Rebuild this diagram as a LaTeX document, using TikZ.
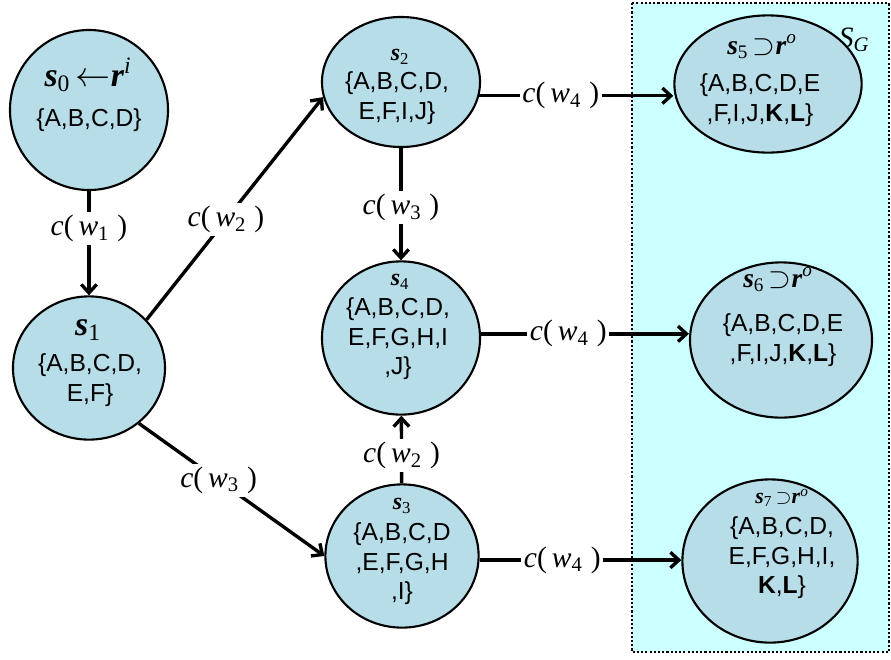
\documentclass[tikz,border=0pt]{standalone}
\usepackage{fontspec}
\setmainfont{Liberation Serif}
\setsansfont{Liberation Sans}
\usepackage{xcolor}
\usetikzlibrary{shapes.geometric,arrows.meta}
\definecolor{statefill}{HTML}{B7DDE8}
\definecolor{goalfill}{HTML}{CCFFFF}
\newcommand{\cw}[1]{\textit{c}(\,\textit{w}\textsubscript{#1}\;)}
\newcommand{\sname}[1]{\textbf{\textit{s}}\textsubscript{#1}}
\newcommand{\rsup}[1]{\textbf{\textit{r}}\textsuperscript{\textit{#1}}}
\tikzset{
  state/.style={ellipse, draw, line width=1.5pt, fill=statefill, inner sep=0pt},
  setlist/.style={font=\sffamily\fontsize{17.5}{21}\selectfont, align=center, inner sep=0pt},
  edge/.style={line width=2.4pt, -{Straight Barb[length=6pt, width=11pt]}},
  wlabel/.style={fill=white, inner sep=2pt, font=\fontsize{21}{24}\selectfont},
}

\begin{document}
\begin{tikzpicture}[x=0.025cm, y=-0.025cm]
  \useasboundingbox (0,0) rectangle (891,659);
  % goal region
  \filldraw[fill=goalfill, draw=black, line width=1.5pt, dash pattern=on 1.5pt off 1.5pt] (632,3) rectangle (889,652);
  \node[font=\fontsize{21}{24}\selectfont] (sg) at (854,40) {\textit{S}\textsubscript{\textit{G}}};

  % states
  \node[state, minimum width=3.95cm, minimum height=4cm] (s0) at (89,110) {};
  \node[state, minimum width=3.8cm, minimum height=3.58cm] (s1) at (89,368) {};
  \node[state, minimum width=3.95cm, minimum height=3.25cm] (s2) at (401,82) {};
  \node[state, minimum width=3.95cm, minimum height=3.83cm] (s4) at (401,338) {};
  \node[state, minimum width=3.83cm, minimum height=3.58cm] (s3) at (402,556) {};
  \node[state, minimum width=4.68cm, minimum height=3.43cm] (s5) at (768,84) {};
  \node[state, minimum width=4.55cm, minimum height=3.88cm] (s6) at (781,340) {};
  \node[state, minimum width=4.38cm, minimum height=4.08cm] (s7) at (770,561) {};

  % state texts
  \node[font=\fontsize{24}{26}\selectfont] (n0) at (88,75) {\sname{0}\,$\leftarrow$\rsup{i}};
  \node[setlist] (l0) at (89,120) {\{A,B,C,D\}};
  \node[font=\fontsize{24}{26}\selectfont] (n1) at (88,330) {\sname{1}};
  \node[setlist] (l1) at (90,380) {\{A,B,C,D,\\E,F\}};
  \node[font=\fontsize{17}{19}\selectfont] (n2) at (400,57) {\sname{2}};
  \node[setlist] (l2) at (397,98) {\{A,B,C,D,\\E,F,I,J\}};
  \node[font=\fontsize{17}{19}\selectfont] (n4) at (400,282) {\sname{4}};
  \node[setlist] (l4) at (398,339) {\{A,B,C,D,\\E,F,G,H,I\\,J\}};
  \node[font=\fontsize{17}{19}\selectfont] (n3) at (402,506) {\sname{3}};
  \node[setlist] (l3) at (402,564) {\{A,B,C,D\\,E,F,G,H\\,I\}};
  \node[font=\fontsize{19.5}{22}\selectfont] (n5) at (762,47) {\sname{5}\,$\supset$\rsup{o}};
  \node[setlist] (l5) at (760,100) {\{A,B,C,D,E\\,F,I,J,\textbf{K},\textbf{L}\}};
  \node[font=\fontsize{19.5}{22}\selectfont] (n6) at (778,280) {\sname{6}\,$\supset$\rsup{o}};
  \node[setlist] (l6) at (783,340) {\{A,B,C,D,E\\,F,I,J,\textbf{K},\textbf{L}\}};
  \node[font=\fontsize{15.5}{18}\selectfont] (n7) at (782,498) {\sname{7}\,$\supset$\rsup{o}};
  \node[setlist] (l7) at (782,558) {\{A,B,C,D,\\E,F,G,H,I,\\\textbf{K},\textbf{L}\}};

  % transitions
  \draw[edge] (s0) -- node[wlabel, pos=0.36] {\cw{1}} (s1);
  \draw[edge] (s1.40) -- node[wlabel, pos=0.45] {\cw{2}} (s2.191);
  \draw[edge] (s1.-48) -- node[wlabel, pos=0.43] {\cw{3}} (s3.west);
  \draw[edge] (s2) -- node[wlabel, pos=0.53] {\cw{3}} (s4);
  \draw[edge] (s3) -- node[wlabel, pos=0.41] {\cw{2}} (s4);
  \draw[edge] (s2.-10) -- node[wlabel, pos=0.42] {\cw{4}} (s2.-10 -| s5.west);
  \draw[edge] (s4.3) -- node[wlabel, pos=0.42] {\cw{4}} (s4.3 -| s6.west);
  \draw[edge] (s3.-3) -- node[wlabel, pos=0.41] {\cw{4}} (s3.-3 -| s7.west);
\end{tikzpicture}
\end{document}
